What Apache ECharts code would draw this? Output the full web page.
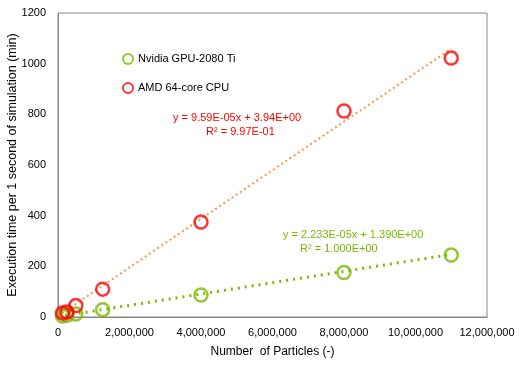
<!DOCTYPE html>
<html><head><meta charset="utf-8">
<script src="https://cdn.jsdelivr.net/npm/echarts@6/dist/echarts.min.js"></script>
<style>html,body{margin:0;padding:0;background:#fff}#c{width:522px;height:368px}</style>
</head><body><div id="c"></div>
<script>
const particles = [125000, 250000, 500000, 1250000, 4000000, 8000000, 11000000];
const gpuTimes = [4, 7, 12, 29, 87, 176, 245];
const cpuTimes = [16, 20, 45, 110, 375, 813, 1022];
const gpuTrendEnds = [[0, 1.4], [11000000, 247]];
const cpuTrendEnds = [[0, 3.9], [11000000, 1059]];
const xTicks = [0, 2000000, 4000000, 6000000, 8000000, 10000000, 12000000];
const yTicks = [0, 200, 400, 600, 800, 1000, 1200];
const gpuName = 'Nvidia GPU-2080 Ti';
const cpuName = 'AMD 64-core CPU';
const cpuEq = ['y = 9.59E-05x + 3.94E+00', 'R² = 9.97E-01'];
const gpuEq = ['y = 2.233E-05x + 1.390E+00', 'R² = 1.000E+00'];

const GREEN = '#7ab800', RED = '#ff0000', ORANGE = '#f79646';
const FONT = 'Liberation Sans';
const chart = echarts.init(document.getElementById('c'), null, {renderer: 'canvas'});
const fmt = v => v.toLocaleString('en-US');
chart.setOption({
  animation: false,
  textStyle: {fontFamily: FONT},
  grid: {left: 58, top: 13, right: 35, bottom: 51, containLabel: false, outerBoundsMode: 'none',
         show: true, borderColor: '#868686', borderWidth: 1},
  legend: {
    left: 117, top: 48, orient: 'vertical', itemGap: 17, itemWidth: 10, itemHeight: 10,
    textStyle: {fontFamily: FONT, fontSize: 11, color: '#000'},
    data: [{name: gpuName, icon: 'circle'}, {name: cpuName, icon: 'circle'}]
  },
  xAxis: {
    type: 'value', min: 0, max: 12000000, interval: 2000000,
    name: 'Number  of Particles (-)', nameLocation: 'middle', nameGap: 29, nameMoveOverlap: false,
    nameTextStyle: {fontFamily: FONT, fontSize: 12, color: '#000'},
    axisLine: {lineStyle: {color: '#868686'}}, axisTick: {show: false}, splitLine: {show: false},
    axisLabel: {fontFamily: FONT, fontSize: 11, color: '#000', margin: 10, formatter: v => fmt(v)}
  },
  yAxis: {
    type: 'value', min: 0, max: 1200, interval: 200,
    name: 'Execution time per 1 second of simulation (min)', nameLocation: 'middle', nameGap: 39, nameMoveOverlap: false,
    nameTextStyle: {fontFamily: FONT, fontSize: 12.5, color: '#000'},
    axisLine: {show: true, lineStyle: {color: '#868686'}}, axisTick: {show: false}, splitLine: {show: false},
    axisLabel: {fontFamily: FONT, fontSize: 11, color: '#000', margin: 12, formatter: v => String(v)}
  },
  series: [
    {name: 'gpuTrend', type: 'line', data: gpuTrendEnds, symbol: 'none', silent: true,
     lineStyle: {color: GREEN, width: 3, type: [2, 5]}, z: 1},
    {name: 'cpuTrend', type: 'line', data: cpuTrendEnds, symbol: 'none', silent: true,
     lineStyle: {color: ORANGE, width: 2, type: [2, 3]}, z: 1},
    {name: gpuName, type: 'scatter', data: particles.map((x, i) => [x, gpuTimes[i]]),
     symbol: 'circle', symbolSize: 13, itemStyle: {color: 'rgba(0,0,0,0)', borderColor: GREEN, borderWidth: 2.5}, z: 3},
    {name: cpuName, type: 'scatter', data: particles.map((x, i) => [x, cpuTimes[i]]),
     symbol: 'circle', symbolSize: 13, itemStyle: {color: 'rgba(0,0,0,0)', borderColor: RED, borderWidth: 2.5}, z: 4}
  ],
  graphic: [
    {type: 'text', left: 173, top: 112, style: {text: cpuEq[0], fill: RED, font: '11px ' + FONT}},
    {type: 'text', left: 206, top: 126, style: {text: cpuEq[1], fill: RED, font: '11px ' + FONT}},
    {type: 'text', left: 283, top: 229, style: {text: gpuEq[0], fill: GREEN, font: '11px ' + FONT}},
    {type: 'text', left: 300, top: 243, style: {text: gpuEq[1], fill: GREEN, font: '11px ' + FONT}}
  ]
});
</script></body></html>
